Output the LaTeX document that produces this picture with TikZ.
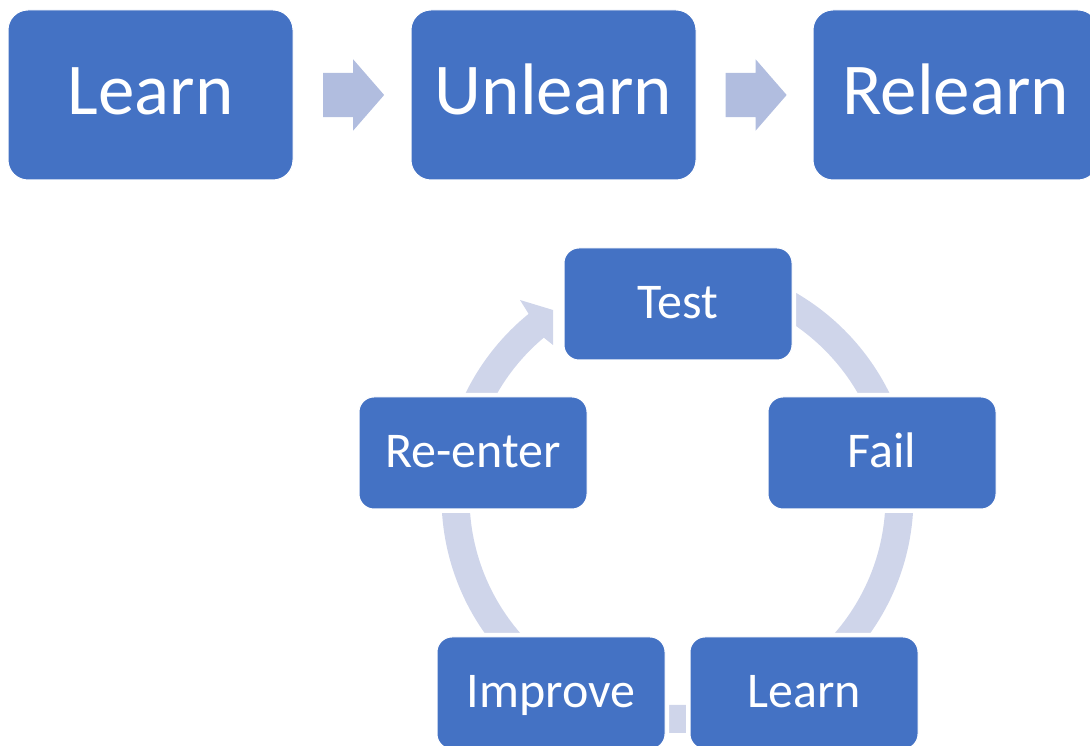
\documentclass[tikz,border=0pt]{standalone}
\usepackage{fontspec}
\setmainfont{Carlito}
\usetikzlibrary{shapes.arrows}
\definecolor{boxblue}{HTML}{4472C4}
\definecolor{ringblue}{HTML}{CFD5EA}
\definecolor{arrblue}{HTML}{B1BDDF}
\newcommand{\Bigtxt}{\fontsize{73}{80}\selectfont}
\newcommand{\Cyctxt}{\fontsize{50}{56}\selectfont}

\begin{document}
\begin{tikzpicture}[x=1pt,y=1pt,
  topbox/.style={rectangle,rounded corners=20pt,fill=boxblue,draw=white,line width=1pt,
    preaction={draw=white,line width=8pt},text=white,inner sep=0pt,
    minimum width=285pt,minimum height=170pt,font=\Bigtxt,text height=40pt,text depth=0pt},
  cycbox/.style={rectangle,rounded corners=15pt,fill=boxblue,draw=white,line width=1pt,
    preaction={draw=white,line width=8pt},text=white,inner sep=0pt,
    minimum width=228pt,minimum height=112pt,font=\Cyctxt,text height=30pt,text depth=0pt},
  blockarrow/.style={single arrow,fill=arrblue,draw=none,inner xsep=0pt,inner ysep=22pt,xshift=-8pt,
    minimum height=61pt,minimum width=71pt,single arrow head extend=13.5pt,single arrow tip angle=98}]
% \draw[help lines] (0,0) grid[step=50] (1090,746);
\useasboundingbox (0,0) rectangle (1090,746);
% top row
\node (l1) [topbox] at (150.5,651) {Learn};
\node (l2) [topbox] at (553.5,651) {Unlearn};
\node (l3) [topbox] at (955.5,651) {Relearn};
\path (l1) -- (l2) node[midway,blockarrow] (a1) {};
\path (l2) -- (l3) node[midway,blockarrow] (a2) {};
% cycle
\coordinate (hub) at (677.5,249);
\draw[ringblue,line width=28pt] ([shift={(90:222)}]hub) arc[start angle=90,end angle=-232,radius=222];
\fill[ringblue] (520,446) -- (553,436) -- (553,401) -- (543,409) -- cycle;
\node (c1) [cycbox] at (678,442) {Test};
\node (c2) [cycbox] at (882,293) {Fail};
\node (c3) [cycbox] at (804,53) {Learn};
\node (c4) [cycbox] at (551,53) {Improve};
\node (c5) [cycbox] at (473,293) {Re-enter};
\end{tikzpicture}
\end{document}
